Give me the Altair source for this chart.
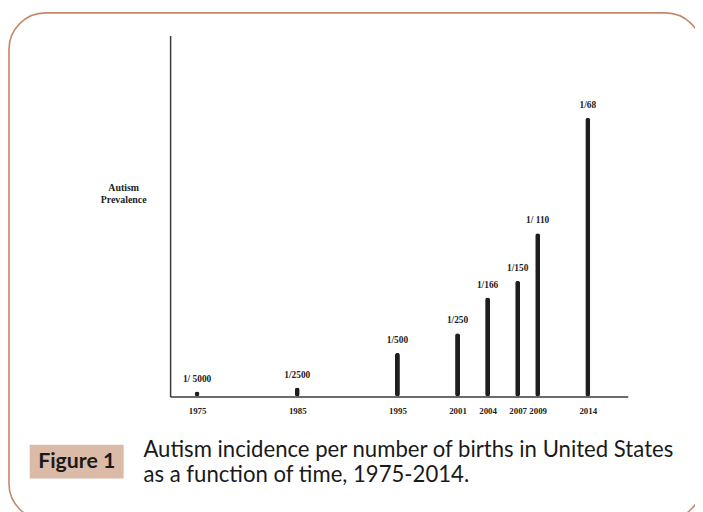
import altair as alt
import pandas as pd

# data (bar heights in relative units of the drawn scale)
years = [1975, 1985, 1995, 2001, 2004, 2007, 2009, 2014]
heights = [5, 9, 44, 64, 100, 117, 165, 282]
labels = ["1/ 5000", "1/2500", "1/500", "1/250", "1/166", "1/150", "1/ 110", "1/68"]
ylabel_lines = ["Autism", "Prevalence"]
fig_tag = "Figure 1"
caption_lines = ["Autism incidence per number of births in United States",
                 "as a function of time, 1975-2014."]

df = pd.DataFrame({"year": years, "h": heights, "label": labels})
one = pd.DataFrame({"a": [0]})

W, H = 463, 365
xscale = alt.Scale(domain=[1972.8, 2017.5], nice=False, zero=False)
yscale = alt.Scale(domain=[0, 365], nice=False)

serif = "Liberation Serif"
sans = "Lato"

xaxis = alt.Axis(values=years, format="d", ticks=False, grid=False, title=None,
                 domainColor="#3a3a3a", domainWidth=1.5,
                 labelFont=serif, labelFontWeight="bold", labelFontSize=9,
                 labelColor="#222", labelPadding=10)
yaxis = alt.Axis(labels=False, ticks=False, grid=False, title=None,
                 domainColor="#3a3a3a", domainWidth=1.5)

bars = alt.Chart(df).mark_bar(size=5, color="#1e1e1e", cornerRadius=2.5).encode(
    x=alt.X("year:Q", scale=xscale, axis=xaxis),
    y=alt.Y("h:Q", scale=yscale, axis=yaxis),
)

bar_labels = alt.Chart(df).mark_text(
    font=serif, fontWeight="bold", fontSize=9.5, color="#222", baseline="middle", dy=-13
).encode(x=alt.X("year:Q", scale=xscale, axis=xaxis),
         y=alt.Y("h:Q", scale=yscale, axis=yaxis), text="label:N")


def text_line(txt, x, y, **kw):
    return alt.Chart(one).mark_text(baseline="middle", **kw).encode(
        x=alt.value(x), y=alt.value(y), text=alt.value(txt))


ylab = [text_line(t, -47, 154 + 12 * i, font=serif, fontWeight="bold", fontSize=10,
                  color="#222", align="center") for i, t in enumerate(ylabel_lines)]

border = alt.Chart(one).mark_rect(
    fill=None, stroke="#c4886c", strokeWidth=1.6, cornerRadius=37
).encode(x=alt.value(-163), x2=alt.value(538), y=alt.value(-23), y2=alt.value(490))

tagbox = alt.Chart(one).mark_rect(fill="#dcbaa8").encode(
    x=alt.value(-142), x2=alt.value(-47), y=alt.value(414), y2=alt.value(448))

tagtext = text_line(fig_tag, -94.5, 431, font=sans, fontWeight="bold", fontSize=21.5,
                    color="#1a1a1a", align="center")

cap = [text_line(t, -27, 419 + 26 * i, font=sans, fontSize=22.4, color="#1a1a1a", align="left")
       for i, t in enumerate(caption_lines)]

chart = alt.layer(border, tagbox, tagtext, *cap, bars, bar_labels, *ylab).properties(
    width=W, height=H,
    padding={"left": 164, "top": 25, "right": 68, "bottom": 114},
    autosize=alt.AutoSizeParams(type="none"),
    background="white",
).configure_view(stroke=None)

chart.save("out.html", embed_options={"renderer": "svg", "actions": False})
